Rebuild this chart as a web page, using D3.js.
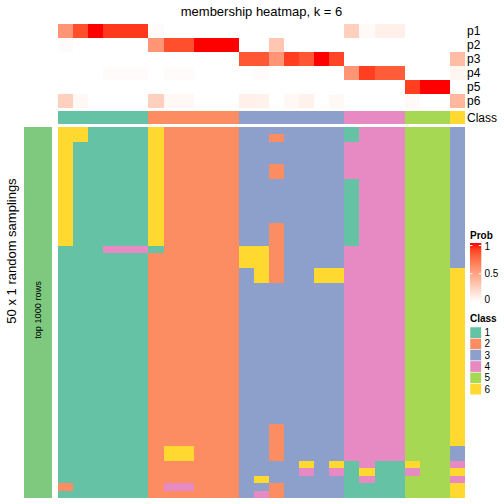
<!DOCTYPE html>
<html><head><meta charset="utf-8">
<script src="https://cdn.jsdelivr.net/npm/d3@7"></script>
<style>body{margin:0;background:#fff}svg{display:block}text{font-family:"Liberation Sans",Arial,Helvetica,sans-serif}</style>
</head><body><svg id="c" width="504" height="504"></svg>
<script>
// Membership probabilities per column (27 columns)
const p1 = [0.55,0.85,1,0.92,0.92,0.92, 0.02,0,0,0,0,0, 0,0,0,0,0,0,0, 0.25,0.03,0.08,0.08, 0,0,0, 0];
const p2 = [0.02,0,0,0,0,0, 0.55,0.85,0.85,1,1,1, 0,0,0.3,0,0,0,0, 0,0,0,0, 0,0,0, 0];
const p3 = [0,0,0,0,0,0, 0,0,0,0,0,0, 0.82,0.82,0.55,0.9,0.82,1,0.88, 0,0,0,0, 0,0,0, 0.35];
const p4 = [0,0,0,0.02,0.02,0.02, 0,0.02,0.02,0,0,0, 0,0.02,0,0,0,0,0, 0.55,0.9,0.8,0.8, 0,0,0, 0.05];
const p5 = [0,0,0,0,0,0, 0,0,0,0,0,0, 0,0,0,0,0,0,0, 0,0,0,0, 0.9,1,1, 0];
const p6 = [0.25,0.04,0,0,0,0, 0.25,0.04,0.04,0,0,0, 0.08,0.07,0,0.04,0.07,0,0.04, 0,0,0,0, 0.03,0,0, 0.38];
const probNames = ["p1","p2","p3","p4","p5","p6"];
const classRow = [1,1,1,1,1,1, 2,2,2,2,2,2, 3,3,3,3,3,3,3, 4,4,4,4, 5,5,5, 6];
// Class per random sampling (50 rows x 27 columns)
const samplings = [
"661111622222333333314445553",
"661111622222332333314445553",
"611111622222333333344445553",
"611111622222333333344445553",
"611111622222333333344445553",
"611111622222332333344445553",
"611111622222332333344445553",
"611111622222333333314445553",
"611111622222333333314445553",
"611111622222333333314445553",
"611111622222333333314445553",
"611111622222333333314445553",
"611111622222333333314445553",
"611111622222332333314445553",
"611111622222332333314445553",
"611111622222332333314445553",
"111444122222662333344445553",
"111111222222662333344445553",
"111111222222662333344445553",
"111111222222362336644445556",
"111111222222362336644445556",
"111111222222333333344445556",
"111111222222333333344445556",
"111111222222333333344445556",
"111111222222333333344445556",
"111111222222333333344445556",
"111111222222333333344445556",
"111111222222333333344445556",
"111111222222333333344445556",
"111111222222333333344445556",
"111111222222333333344445556",
"111111222222333333344445556",
"111111222222333333344445556",
"111111222222333333344445556",
"111111222222333333344445556",
"111111222222333333344445556",
"111111222222333333344445556",
"111111222222333333344445556",
"111111222222333333344445556",
"111111222222333333344445556",
"111111222222332333344445556",
"111111222222332333344445556",
"111111222222332333344445556",
"111111266222332333344445553",
"111111266222332333344445553",
"111111222222333363614116554",
"111111222222333343416114556",
"111111222222363333314115554",
"211111244222332333311115556",
"111111222222342333311115556"
];
const classKeys = [1,2,3,4,5,6];
const classColors = ["#66C2A5","#FC8D62","#8DA0CB","#E78AC3","#A6D854","#FFD92F"];
const probTicks = [0,0.5,1];

const svg = d3.select("#c");
const color = d3.scaleOrdinal().domain(classKeys).range(classColors);
const probColor = d3.scaleLinear().domain([0,1]).range(["#FFFFFF","#FF0000"]).interpolate(d3.interpolateLab);
const cols = d3.range(classRow.length);
const x = d3.scaleBand().domain(cols).range([58,465]);
const yTop = d3.scaleBand().domain(probNames).range([24,108]);
const yMain = d3.scaleBand().domain(d3.range(samplings.length)).range([127,498]);
const probs = [p1,p2,p3,p4,p5,p6];
const cellW = j => Math.round(x(j)+x.bandwidth()) - Math.round(x(j));

// title
svg.append("text").attr("x",261.5).attr("y",16).attr("text-anchor","middle").attr("font-size",13).text("membership heatmap, k = 6");

const cg = svg.append("g").attr("shape-rendering","crispEdges");
// top prob annotation
probs.forEach((arr,i)=>{
  cg.append("g").selectAll("rect").data(arr).join("rect")
    .attr("x",(d,j)=>Math.round(x(j))).attr("y",yTop(probNames[i])).attr("width",(d,j)=>cellW(j)).attr("height",yTop.bandwidth())
    .attr("fill",d=>probColor(d));
  svg.append("text").attr("x",467).attr("y",yTop(probNames[i])+yTop.bandwidth()/2).attr("dy","0.35em").attr("font-size",12).text(probNames[i]);
});
// class annotation
cg.append("g").selectAll("rect").data(classRow).join("rect")
  .attr("x",(d,j)=>Math.round(x(j))).attr("y",111).attr("width",(d,j)=>cellW(j)).attr("height",13)
  .attr("fill",d=>color(d));
svg.append("text").attr("x",467).attr("y",117.5).attr("dy","0.35em").attr("font-size",12).text("Class");

// main heatmap
const cells = [];
samplings.forEach((s,r)=>{ s.split("").forEach((c,j)=>cells.push({r,j,v:+c})); });
cg.append("g").selectAll("rect").data(cells).join("rect")
  .attr("x",d=>Math.round(x(d.j))).attr("y",d=>Math.round(yMain(d.r)))
  .attr("width",d=>cellW(d.j))
  .attr("height",d=>Math.round(yMain(d.r)+yMain.bandwidth())-Math.round(yMain(d.r)))
  .attr("fill",d=>color(d.v));

// left bar
svg.append("rect").attr("x",24).attr("y",127).attr("width",28).attr("height",371).attr("fill","#7FC97F");
svg.append("text").attr("transform","translate(41,310) rotate(-90)").attr("text-anchor","middle").attr("font-size",9.2).text("top 1000 rows");
svg.append("text").attr("transform","translate(15.5,251) rotate(-90)").attr("text-anchor","middle").attr("font-size",13).text("50 x 1 random samplings");

// Prob legend
const ly = d3.scaleLinear().domain([0,1]).range([302,245.5]);
svg.append("text").attr("x",470).attr("y",238.5).attr("font-size",10).attr("font-weight","bold").text("Prob");
const defs = svg.append("defs");
const grad = defs.append("linearGradient").attr("id","pg").attr("x1",0).attr("y1",1).attr("x2",0).attr("y2",0);
d3.range(0,1.001,0.1).forEach(t=>grad.append("stop").attr("offset",t).attr("stop-color",probColor(t)));
svg.append("rect").attr("x",470).attr("y",243).attr("width",11.3).attr("height",59).attr("fill","url(#pg)");
probTicks.forEach(t=>{
  const yy = ly(t);
  if(t>0){
    svg.append("line").attr("x1",470).attr("x2",472.5).attr("y1",yy).attr("y2",yy).attr("stroke","#fff").attr("stroke-width",1);
    svg.append("line").attr("x1",478.8).attr("x2",481.3).attr("y1",yy).attr("y2",yy).attr("stroke","#fff").attr("stroke-width",1);
  }
  svg.append("text").attr("x",484.5).attr("y",t===1?yy+1:Math.min(yy,299)).attr("dy","0.35em").attr("font-size",10).text(t===0?"0":t===1?"1":"0.5");
});

// Class legend
svg.append("text").attr("x",470).attr("y",322).attr("font-size",10).attr("font-weight","bold").text("Class");
classKeys.forEach((k,i)=>{
  const yy = 327 + i*11.3;
  svg.append("rect").attr("x",470).attr("y",yy).attr("width",11.3).attr("height",11.3).attr("fill",color(k)).attr("stroke","#fff").attr("stroke-width",0.5);
  svg.append("text").attr("x",484.5).attr("y",yy+5.65).attr("dy","0.35em").attr("font-size",10).text(k);
});
</script></body></html>
